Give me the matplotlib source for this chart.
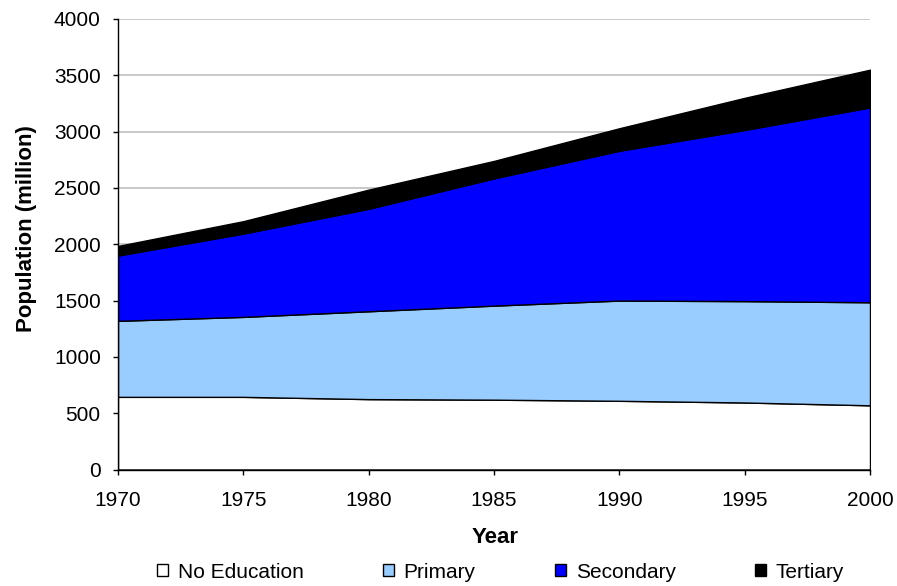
import matplotlib
matplotlib.use("Agg")
import matplotlib.pyplot as plt
from matplotlib.patches import Patch

plt.rcParams['font.family'] = ['Liberation Sans', 'DejaVu Sans']

years = [1970, 1975, 1980, 1985, 1990, 1995, 2000]
no_education = [645, 645, 625, 620, 610, 595, 570]
primary = [675, 710, 780, 835, 890, 900, 915]
secondary = [580, 740, 910, 1130, 1330, 1520, 1730]
tertiary = [85, 110, 170, 155, 200, 285, 335]

series = [no_education, primary, secondary, tertiary]
labels = ['No Education', 'Primary', 'Secondary', 'Tertiary']
colors = ['#FFFFFF', '#99CCFF', '#0000FF', '#000000']

W, H = 897, 586
fig = plt.figure(figsize=(W/100, H/100), dpi=100)
L, R, T, B = 118, 870, 19, 469.5
ax = fig.add_axes([L/W, 1-B/H, (R-L)/W, (B-T)/H])

base = [0]*len(years)
for vals, lab, col in zip(series, labels, colors):
    top = [b + v for b, v in zip(base, vals)]
    ax.fill_between(years, base, top, facecolor=col, edgecolor='black',
                    linewidth=1.0, zorder=2)
    base = top

ax.set_xlim(1970, 2000)
ax.set_ylim(0, 4000)
ax.set_xticks(years)
ax.set_yticks(range(0, 4001, 500))
ax.yaxis.grid(True, color='#C0C0C0', linewidth=1.2, zorder=0)
ax.set_axisbelow(True)
for s in ['top', 'right']:
    ax.spines[s].set_visible(False)
for s in ['left', 'bottom']:
    ax.spines[s].set_linewidth(1.0)
    ax.spines[s].set_zorder(5)
ax.tick_params(axis='both', labelsize=15, direction='out', length=3.8, width=1)
ax.tick_params(axis='x', pad=12)
ax.tick_params(axis='y', pad=8.6)

ax.set_xlabel('Year', fontsize=16, fontweight='bold')
ax.xaxis.set_label_coords((495-L)/(R-L), (B-527)/(B-T))
ax.set_ylabel('Population (million)', fontsize=16, fontweight='bold')
ax.yaxis.set_label_coords((37-L)/(R-L), (B-229)/(B-T))

handles = [Patch(facecolor=c, edgecolor='black', linewidth=1.0) for c in colors]
leg = fig.legend(handles, labels, loc='center left',
                 bbox_to_anchor=(157/W, 1-572/H),
                 ncol=4, frameon=False, fontsize=15, handlelength=0.55,
                 handleheight=0.55, handletextpad=0.45, columnspacing=3.8,
                 borderpad=0, borderaxespad=0)

fig.savefig('out.png', dpi=100)
